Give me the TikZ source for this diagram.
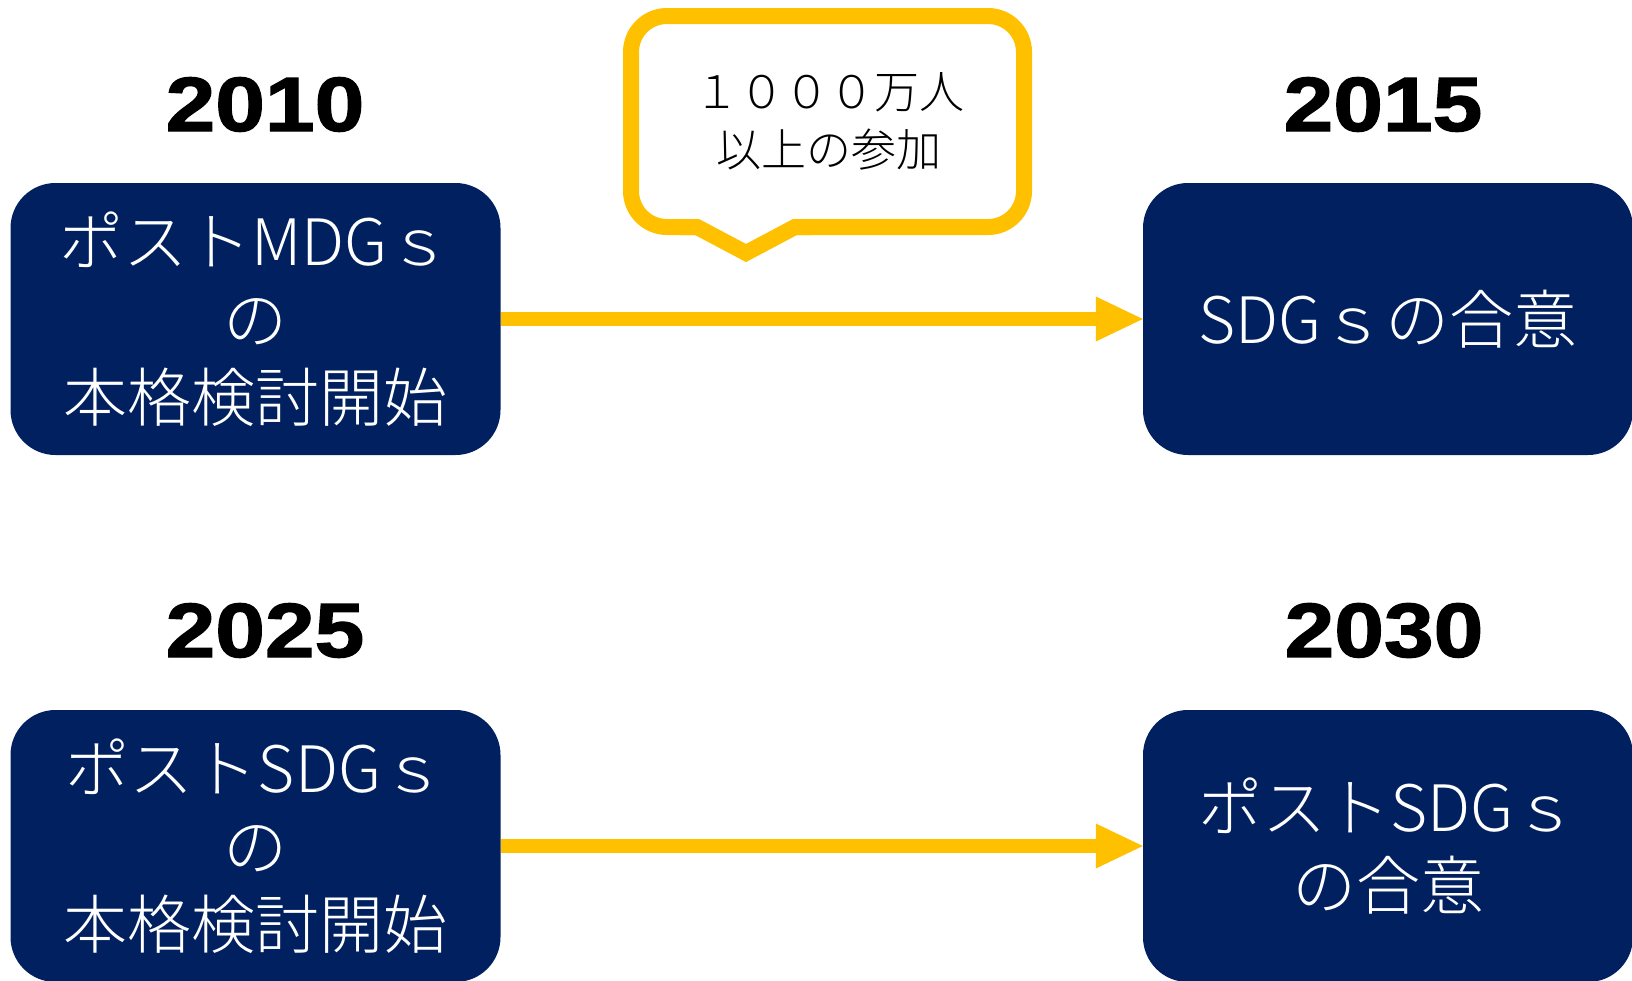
\documentclass[tikz,border=0pt]{standalone}
\usepackage{fontspec}
\usetikzlibrary{arrows.meta}
\newfontfamily\jpfont{Noto Sans CJK JP Light}
\newfontfamily\yearfont{Liberation Sans}[BoldFeatures={FakeBold=1.5}]
\definecolor{navy}{HTML}{002060}
\definecolor{gold}{HTML}{FFC000}
\tikzset{
  navybox/.style={fill=navy, text=white, rounded corners=45pt,
    minimum width=490pt, minimum height=272pt, inner sep=0pt, align=center,
    font=\jpfont\fontsize{64}{78}\selectfont},
  yearlabel/.style={text=black, inner sep=0pt, font=\yearfont\bfseries\fontsize{77}{80}\selectfont},
  conn/.style={draw=gold, line width=14pt,
    -{Triangle[length=47pt,width=45pt,line width=0pt]}},
  callout/.style={draw=gold, fill=white, line width=16pt, rounded corners=36pt,
    minimum width=393pt, minimum height=211pt, inner sep=0pt},
  callouttext/.style={text=black, align=center, inner sep=0pt,
    font=\jpfont\fontsize{45}{58}\selectfont}
}
\begin{document}
\begin{tikzpicture}[x=1pt,y=-1pt]
\useasboundingbox (0,0) rectangle (1632,980);
\clip (0,0) rectangle (1632,980);
\fill[white] (0,0) rectangle (1632,980);

% boxes
\node[navybox] (b1) at (255.5,319) {ポストMDGｓ\\の\\本格検討開始};
\node[navybox] (b2) at (1388,319) {SDGｓの合意};
\node[navybox] (b3) at (255.5,846) {ポストSDGｓ\\の\\本格検討開始};
\node[navybox] (b4) at (1388,846) {ポストSDGｓ\\の合意};

% years
\node[yearlabel] (y1) at (265,104.5) {\scalebox{1.16}[1]{2010}};
\node[yearlabel] (y2) at (1383,104.5) {\scalebox{1.16}[1]{2015}};
\node[yearlabel] (y3) at (265,630.5) {\scalebox{1.16}[1]{2025}};
\node[yearlabel] (y4) at (1384,630.5) {\scalebox{1.16}[1]{2030}};

% connectors
\draw[conn] (b1.east) -- (b2.west);
\draw[conn] (b3.east) -- (b4.west);

% callout
\node[callout] (c) at (827.5,121.5) {};
\fill[white] (699,217.5) rectangle (793,236.5);
\coordinate (pl) at (680,227);
\coordinate (pa) at (697,227);
\coordinate (pt) at (746,253);
\coordinate (pb) at (795,227);
\coordinate (pr) at (812,227);
\draw[gold, line width=16pt, line join=miter] (pl) -- (pa) -- (pt) -- (pb) -- (pr);
\node[callouttext] (ct) at (829,121.5) {１０００万人\\以上の参加};
\end{tikzpicture}
\end{document}
